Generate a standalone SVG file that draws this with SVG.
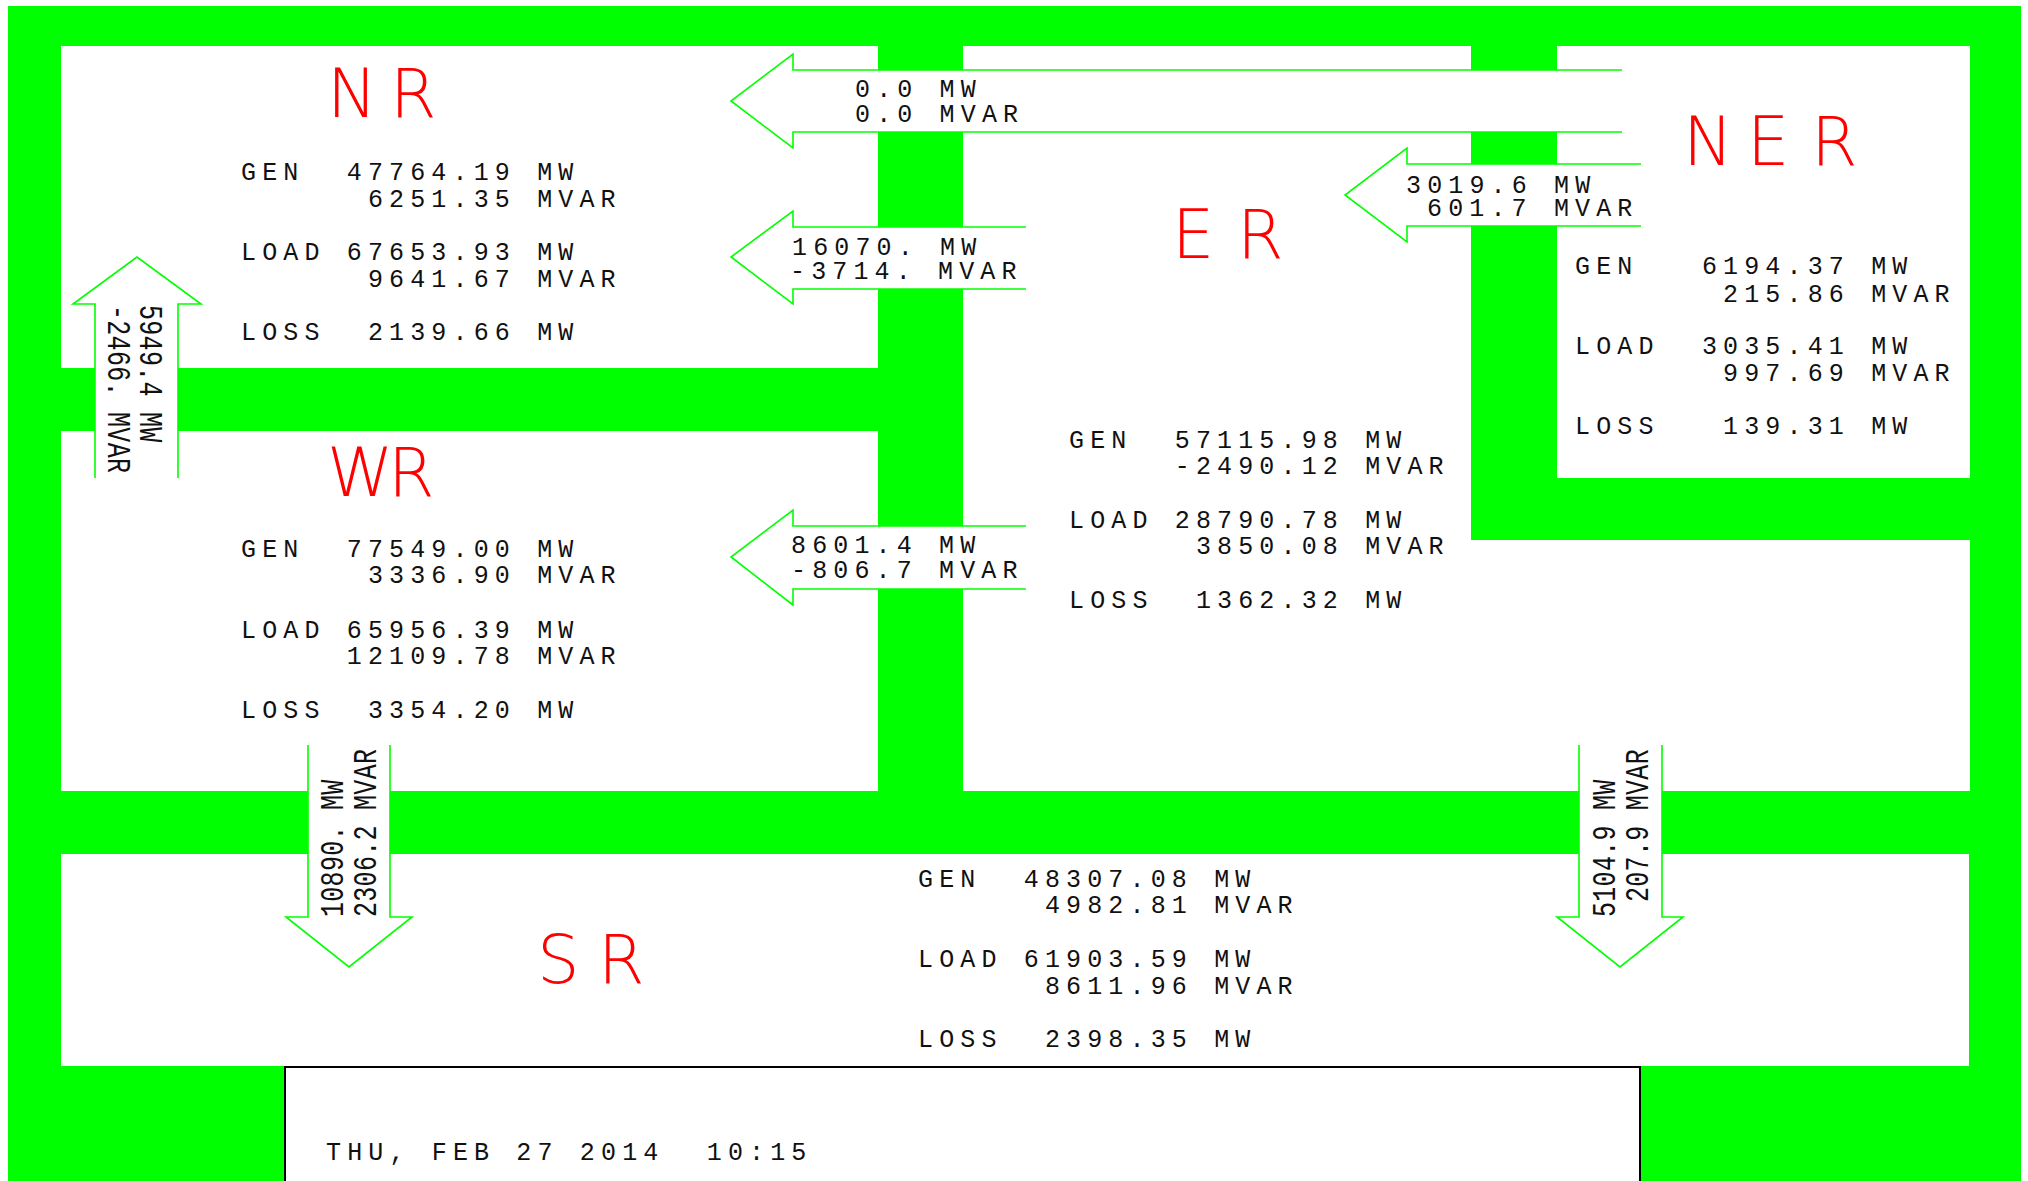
<svg xmlns="http://www.w3.org/2000/svg" width="2028" height="1181" viewBox="0 0 2028 1181">
<style>
.bg{fill:#00ff00}
.box{fill:#ffffff}
.arrow{fill:#ffffff;stroke:#00ff00;stroke-width:1.6}
.t{font-family:"Liberation Mono",monospace;font-size:25px;letter-spacing:6.15px;fill:#111111;white-space:pre}
.vt{font-family:"Liberation Mono",monospace;font-size:25px;letter-spacing:0.3px;fill:#111111;white-space:pre}
.lbl{font-family:"DejaVu Sans",sans-serif;font-weight:200;font-size:67px;fill:#ff0000}
.frame{fill:#ffffff;stroke:#000000;stroke-width:2}
</style>
<rect x="0" y="0" width="2028" height="1181" fill="#ffffff"/>
<rect class="bg" x="8" y="6" width="2013" height="1175"/>

<g id="NR">
<rect class="box" x="61" y="46" width="817" height="322"/>
<text class="lbl" x="327 390" y="117">NR</text>
<text class="t" xml:space="preserve" x="241" y="180">GEN  47764.19 MW</text>
<text class="t" xml:space="preserve" x="241" y="207">      6251.35 MVAR</text>
<text class="t" xml:space="preserve" x="241" y="260">LOAD 67653.93 MW</text>
<text class="t" xml:space="preserve" x="241" y="287">      9641.67 MVAR</text>
<text class="t" xml:space="preserve" x="241" y="340">LOSS  2139.66 MW</text>
</g>

<g id="WR">
<rect class="box" x="61" y="431" width="817" height="360"/>
<text class="lbl" x="327 388" y="496">WR</text>
<text class="t" xml:space="preserve" x="241" y="557">GEN  77549.00 MW</text>
<text class="t" xml:space="preserve" x="241" y="583">      3336.90 MVAR</text>
<text class="t" xml:space="preserve" x="241" y="638">LOAD 65956.39 MW</text>
<text class="t" xml:space="preserve" x="241" y="664">     12109.78 MVAR</text>
<text class="t" xml:space="preserve" x="241" y="718">LOSS  3354.20 MW</text>
</g>

<g id="ER">
<path class="box" d="M963,46 H1471 V540 H1970 V791 H963 Z"/>
<text class="lbl" x="1172 1237" y="258">ER</text>
<text class="t" xml:space="preserve" x="1069" y="448">GEN  57115.98 MW</text>
<text class="t" xml:space="preserve" x="1069" y="474">     -2490.12 MVAR</text>
<text class="t" xml:space="preserve" x="1069" y="528">LOAD 28790.78 MW</text>
<text class="t" xml:space="preserve" x="1069" y="554">      3850.08 MVAR</text>
<text class="t" xml:space="preserve" x="1069" y="608">LOSS  1362.32 MW</text>
</g>

<g id="NER">
<rect class="box" x="1557" y="46" width="413" height="432"/>
<text class="lbl" x="1683 1747 1811" y="165">NER</text>
<text class="t" xml:space="preserve" x="1575" y="274">GEN   6194.37 MW</text>
<text class="t" xml:space="preserve" x="1575" y="302">       215.86 MVAR</text>
<text class="t" xml:space="preserve" x="1575" y="354">LOAD  3035.41 MW</text>
<text class="t" xml:space="preserve" x="1575" y="381">       997.69 MVAR</text>
<text class="t" xml:space="preserve" x="1575" y="434">LOSS   139.31 MW</text>
</g>

<g id="SR">
<rect class="box" x="61" y="854" width="1908" height="212"/>
<text class="lbl" x="537 598" y="983">SR</text>
<text class="t" xml:space="preserve" x="918" y="887">GEN  48307.08 MW</text>
<text class="t" xml:space="preserve" x="918" y="913">      4982.81 MVAR</text>
<text class="t" xml:space="preserve" x="918" y="967">LOAD 61903.59 MW</text>
<text class="t" xml:space="preserve" x="918" y="994">      8611.96 MVAR</text>
<text class="t" xml:space="preserve" x="918" y="1047">LOSS  2398.35 MW</text>
</g>

<g id="timestamp">
<rect class="frame" x="285" y="1067" width="1355" height="130"/>
<text class="t" xml:space="preserve" x="326" y="1160">THU, FEB 27 2014  10:15</text>
</g>

<g id="connectors">
<g id="NER-NR">
<path class="arrow" d="M1622,70 H793 V54 L731,101 L793,148 V132 H1622"/>
<text class="t" xml:space="preserve" x="855" y="97">0.0 MW</text>
<text class="t" xml:space="preserve" x="855" y="122">0.0 MVAR</text>
</g>
<g id="ER-NR">
<path class="arrow" d="M1026,227 H793 V211 L731,257 L793,304 V289 H1026"/>
<text class="t" xml:space="preserve" x="792" y="255">16070. MW</text>
<text class="t" xml:space="preserve" x="790" y="279">-3714. MVAR</text>
</g>
<g id="NER-ER">
<path class="arrow" d="M1641,164 H1407 V148 L1345,195 L1407,242 V226 H1641"/>
<text class="t" xml:space="preserve" x="1406" y="193">3019.6 MW</text>
<text class="t" xml:space="preserve" x="1427" y="216">601.7 MVAR</text>
</g>
<g id="ER-WR">
<path class="arrow" d="M1026,526 H793 V510 L731,557 L793,605 V589 H1026"/>
<text class="t" xml:space="preserve" x="791" y="553">8601.4 MW</text>
<text class="t" xml:space="preserve" x="791" y="578">-806.7 MVAR</text>
</g>
<g id="WR-NR">
<path class="arrow" d="M95,478 V304 H73 L137,257 L201,304 H178 V478"/>
<text class="vt" xml:space="preserve" transform="translate(140,305) rotate(90) scale(1,1.35)">5949.4 MW</text>
<text class="vt" xml:space="preserve" transform="translate(108,305) rotate(90) scale(1,1.35)">-2466. MVAR</text>
</g>
<g id="WR-SR">
<path class="arrow" d="M308,745 V917 H286 L349,967 L412,917 H390 V745"/>
<text class="vt" xml:space="preserve" transform="translate(343,917) rotate(-90) scale(1,1.35)">10890. MW</text>
<text class="vt" xml:space="preserve" transform="translate(376,917) rotate(-90) scale(1,1.35)">2306.2 MVAR</text>
</g>
<g id="ER-SR">
<path class="arrow" d="M1579,745 V917 H1557 L1620,967 L1683,917 H1662 V745"/>
<text class="vt" xml:space="preserve" transform="translate(1615,917) rotate(-90) scale(1,1.35)">5104.9 MW</text>
<text class="vt" xml:space="preserve" transform="translate(1648,902) rotate(-90) scale(1,1.35)">207.9 MVAR</text>
</g>
</g>
</svg>
